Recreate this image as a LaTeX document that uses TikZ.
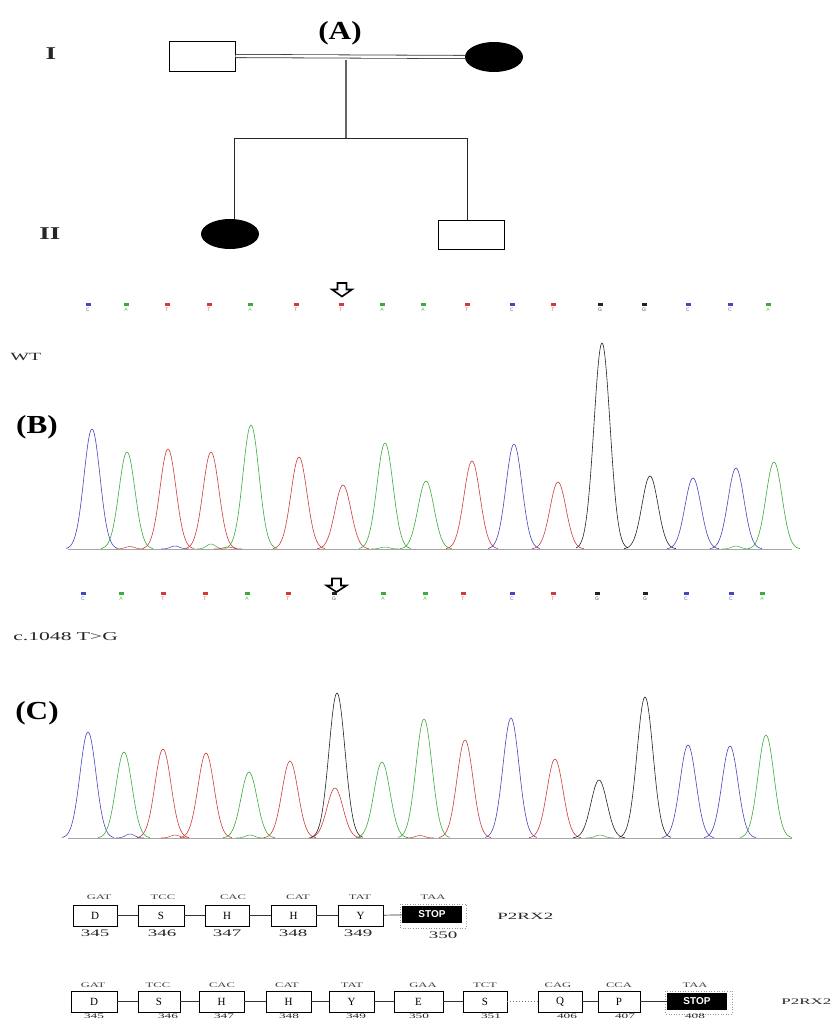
\documentclass[tikz,border=0pt]{standalone}
\usepackage{fontspec}
\setmainfont{Liberation Serif}
\newfontfamily\arialfont{Liberation Sans}
\usetikzlibrary{shapes.geometric}
\definecolor{cblue}{RGB}{70,70,190}
\definecolor{cgreen}{RGB}{60,170,60}
\definecolor{cred}{RGB}{205,60,60}
\definecolor{cblack}{RGB}{35,35,35}
\newcommand\pk[4]{\draw[#1,line width=0.6pt] plot[domain=#2-26:#2+26, samples=45, smooth] (\x,{#3-(#3-#4)*exp(-((\x-#2)^2)/128)});}
\newcommand\bump[4]{\draw[#1,line width=0.5pt] plot[domain=#2-14:#2+14, samples=21, smooth] (\x,{#3-(#3-#4)*exp(-((\x-#2)^2)/40)});}
\tikzset{
  pedbox/.style={draw=black, line width=1pt, fill=white, inner sep=0pt, minimum width=66pt, minimum height=30pt},
  pedfem/.style={ellipse, fill=black, inner sep=0pt, minimum width=58pt, minimum height=30pt},
  pedline/.style={line width=0.9pt, draw=black!85},
  panel/.style={font=\bfseries\fontsize{26}{26}\selectfont, xscale=1.2, inner sep=0pt},
  gen/.style={font=\bfseries\fontsize{18}{18}\selectfont, xscale=1.5, text=black!85, inner sep=0pt},
  sidelab/.style={font=\fontsize{11}{11}\selectfont, xscale=1.8, text=black!85, inner sep=0pt, anchor=west},
  basetxt/.style={font=\arialfont\fontsize{5}{5}\selectfont, inner sep=0pt},
  bigarrow/.style={draw=black, line width=1.6pt, fill=white, line join=miter},
  aabox/.style={draw=black, line width=0.9pt, inner sep=0pt, minimum height=21pt, font=\fontsize{11}{11}\selectfont},
  stopbox/.style={fill=black, text=white, inner sep=0pt, minimum width=60pt, minimum height=17pt, font=\arialfont\bfseries\fontsize{10}{10}\selectfont},
  codon/.style={font=\fontsize{7}{7}\selectfont, xscale=1.8, text=black!75, inner sep=0pt},
  resnum/.style={font=\fontsize{10}{10}\selectfont, xscale=1.9, text=black!85, inner sep=0pt},
  genelab/.style={font=\fontsize{9.5}{9.5}\selectfont, xscale=2.0, text=black!85, inner sep=0pt, anchor=west},
  link/.style={line width=0.7pt, draw=black!80}
}
\begin{document}
\begin{tikzpicture}[x=1pt,y=-1pt]
\useasboundingbox (0,0) rectangle (840,1020);
\clip (0,0) rectangle (840,1020);
\fill[white] (0,0) rectangle (840,1020);

% ---------------- (A) pedigree
\node[panel] (labA) at (340,33) {(A)};
\node[gen] (genI) at (51,54) {I};
\node[gen] (genII) at (50,234) {II};
\node[pedbox] (i1) at (202,56) {};
\node[pedfem] (i2) at (494,57) {};
\draw[double=white, double distance=2.4pt, line width=0.8pt, draw=black!75] (i1.east) -- (i2.west);
\coordinate (m) at (346,59.5);
\coordinate (s) at (346,138);
\coordinate (c1) at (234,138);
\coordinate (c2) at (467,138);
\node[pedfem] (ii1) at (230,234) {};
\node[pedbox, minimum height=29pt] (ii2) at (471,234.5) {};
\draw[pedline, draw=black!60, line width=1.1pt] (m) -- (s);
\draw[pedline] (c1) -- (c2);
\draw[pedline] (c1) -- (c1 |- ii1.north);
\draw[pedline] (c2) -- (c2 |- ii2.north);

% ---------------- (B) wild type
\draw[bigarrow] (337.5,283) -- (346.5,283) -- (346.5,289.5) -- (352,289.5) -- (342,296.5) -- (332,289.5) -- (337.5,289.5) -- cycle;
\foreach \px/\b/\c [count=\i] in {88/C/cblue,126/A/cgreen,167/T/cred,209/T/cred,250/A/cgreen,296/T/cred,341/T/cred,382/A/cgreen,423/A/cgreen,467/T/cred,512/C/cblue,553/T/cred,600/G/cblack,644/G/cblack,688/C/cblue,730/C/cblue,768/A/cgreen}{
  \fill[\c] (\px-2.5,302.5) rectangle (\px+2.5,305.5);
  \node[basetxt, text=\c!80] (wb\i) at (\px,309.5) {\b};
}
\node[sidelab] (wt) at (10,357) {WT};
\node[panel] (labB) at (37,427) {(B)};
\draw[black!35, line width=0.6pt] (68,549) -- (792,549);
\bump{cgreen}{211}{549}{544}
\bump{cblue}{175}{549}{546}
\bump{cred}{130}{549}{546.5}
\bump{cgreen}{385}{549}{547}
\bump{cgreen}{736}{549}{546}
\bump{cred}{228}{549}{547}
\pk{cblue}{92}{549}{429}
\pk{cgreen}{127}{549}{452}
\pk{cred}{168}{549}{449}
\pk{cred}{211}{549}{452}
\pk{cgreen}{251}{549}{425}
\pk{cred}{299}{549}{457}
\pk{cred}{343}{549}{485}
\pk{cgreen}{385}{549}{443}
\pk{cgreen}{426}{549}{481}
\pk{cred}{472}{549}{461}
\pk{cblue}{514}{549}{444}
\pk{cred}{558}{549}{482}
\pk{cblack}{602}{549}{343}
\pk{cblack}{650}{549}{476}
\pk{cblue}{693}{549}{478}
\pk{cblue}{736}{549}{468}
\pk{cgreen}{774}{549}{462}

% ---------------- (C) mutant
\draw[bigarrow] (332,578.5) -- (341,578.5) -- (341,585.5) -- (346.5,585.5) -- (336.5,592) -- (326.5,585.5) -- (332,585.5) -- cycle;
\foreach \px/\b/\c [count=\i] in {83/C/cblue,121/A/cgreen,163/T/cred,205/T/cred,247/A/cgreen,288/T/cred,334/G/cblack,383/A/cgreen,425/A/cgreen,463/T/cred,512/C/cblue,553/T/cred,597/G/cblack,645/G/cblack,686/C/cblue,731/C/cblue,762/A/cgreen}{
  \fill[\c] (\px-2.5,591.5) rectangle (\px+2.5,594.5);
  \node[basetxt, text=\c!80] (mb\i) at (\px,598.5) {\b};
}
\node[sidelab, font=\fontsize{12}{12}\selectfont] (mut) at (13,637) {c.1048 T>G};
\node[panel] (labC) at (37,713) {(C)};
\draw[black!35, line width=0.6pt] (68,838) -- (792,838);
\bump{cblue}{130}{838}{834}
\bump{cred}{175}{838}{835}
\bump{cgreen}{250}{838}{835}
\bump{cred}{420}{838}{835.5}
\bump{cgreen}{600}{838}{835}
\pk{cblue}{88}{838}{732}
\pk{cgreen}{124}{838}{752}
\pk{cred}{163}{838}{749}
\pk{cred}{206}{838}{753}
\pk{cgreen}{249}{838}{772}
\pk{cred}{290}{838}{761}
\pk{cred}{335}{838}{788}
\pk{cblack}{337}{838}{693}
\pk{cgreen}{382}{838}{762}
\pk{cgreen}{424}{838}{719}
\pk{cred}{465}{838}{740}
\pk{cblue}{511}{838}{718}
\pk{cred}{555}{838}{759}
\pk{cblack}{599}{838}{780}
\pk{cblack}{645}{838}{697}
\pk{cblue}{688}{838}{745}
\pk{cblue}{730}{838}{746}
\pk{cgreen}{766}{838}{735}

% ---------------- protein row 1 (mutant)
\node[aabox, minimum width=44pt] (r1a) at (95,915.5) {D};
\node[aabox, minimum width=46pt] (r1b) at (161,915.5) {S};
\node[aabox, minimum width=44pt] (r1c) at (227,915.5) {H};
\node[aabox, minimum width=45pt] (r1d) at (293.5,915.5) {H};
\node[aabox, minimum width=45pt] (r1e) at (360.5,915.5) {Y};
\draw[black!40, dotted, line width=0.6pt] (400.5,904) rectangle (466,928);
\node[stopbox] (r1f) at (432,914.5) {STOP};
\draw[link] (r1a) -- (r1b);
\draw[link] (r1b) -- (r1c);
\draw[link] (r1c) -- (r1d);
\draw[link] (r1d) -- (r1e);
\draw[link] (r1e) -- (r1f);
\foreach \n/\t/\cx in {a/GAT/99,b/TCC/163,c/CAC/233,d/CAT/298,e/TAT/360,f/TAA/433}{
  \node[codon] (c1\n) at (\cx,897) {\t};
}
\foreach \n/\t/\cx/\cy in {a/345/95/933,b/346/162/933,c/347/227/933,d/348/293/933,e/349/358/933,f/350/443/935.5}{
  \node[resnum] (n1\n) at (\cx,\cy) {\t};
}
\node[genelab] (g1) at (497,916) {P2RX2};

% ---------------- protein row 2 (wild type)
\node[aabox, minimum width=46pt] (r2a) at (94,1001.5) {D};
\node[aabox, minimum width=42pt] (r2b) at (159,1001.5) {S};
\node[aabox, minimum width=45pt] (r2c) at (221.5,1001.5) {H};
\node[aabox, minimum width=45pt] (r2d) at (288.5,1001.5) {H};
\node[aabox, minimum width=45pt] (r2e) at (351.5,1001.5) {Y};
\node[aabox, minimum width=49pt] (r2f) at (418.5,1001.5) {E};
\node[aabox, minimum width=44pt] (r2g) at (485,1001.5) {S};
\node[aabox, minimum width=44pt] (r2h) at (560,1001.5) {Q};
\node[aabox, minimum width=42pt] (r2i) at (619,1001.5) {P};
\draw[black!40, dotted, line width=0.6pt] (665.5,991) rectangle (732,1014);
\node[stopbox] (r2j) at (697,1001.5) {STOP};
\draw[link] (r2a) -- (r2b);
\draw[link] (r2b) -- (r2c);
\draw[link] (r2c) -- (r2d);
\draw[link] (r2d) -- (r2e);
\draw[link] (r2e) -- (r2f);
\draw[link] (r2f) -- (r2g);
\draw[black!55, dotted, line width=1pt] (r2g) -- (r2h);
\draw[link] (r2h) -- (r2i);
\draw[link] (r2i) -- (r2j);
\foreach \n/\t/\cx in {a/GAT/93,b/TCC/158,c/CAC/222,d/CAT/287,e/TAT/352,f/GAA/423,g/TCT/485,h/CAG/558,i/CCA/619,j/TAA/695}{
  \node[codon] (c2\n) at (\cx,985) {\t};
}
\foreach \n/\t/\cx in {a/345/94,b/346/168,c/347/224,d/348/289,e/349/356,f/350/419,g/351/491,h/406/567,i/407/625,j/408/695}{
  \node[resnum, font=\fontsize{7}{7}\selectfont] (n2\n) at (\cx,1016.2) {\t};
}
\node[genelab, font=\fontsize{8.5}{8.5}\selectfont] (g2) at (781,1002) {P2RX2};
\end{tikzpicture}
\end{document}
